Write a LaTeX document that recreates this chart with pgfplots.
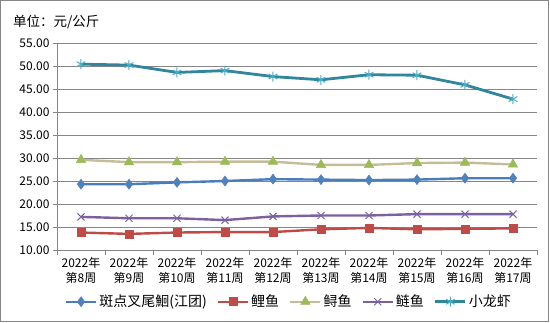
\documentclass[border=0pt]{standalone}
\usepackage{fontspec}
\setmainfont{Noto Sans CJK SC}
\usepackage{pgfplots}
\pgfplotsset{compat=1.18}
\definecolor{framegray}{RGB}{134,134,134}
\definecolor{gridgray}{RGB}{134,134,134}
\definecolor{cA}{RGB}{74,126,187}
\definecolor{cAm}{RGB}{79,129,189}
\definecolor{cB}{RGB}{190,75,72}
\definecolor{cC}{RGB}{196,189,151}
\definecolor{cCm}{RGB}{155,187,89}
\definecolor{cD}{RGB}{125,96,160}
\definecolor{cE}{RGB}{49,133,156}
\definecolor{cEm}{RGB}{75,172,198}
\begin{document}
\begin{tikzpicture}[x=1pt,y=1pt]
\useasboundingbox (0,0) rectangle (550,322);
\draw[framegray, line width=1.2pt] (0.8,0.8) rectangle (548.5,321.2);
\node[anchor=west, inner sep=0pt] at (13,300) {\fontsize{13.5}{16}\selectfont 单位：元/公斤};
\begin{axis}[
  at={(57pt,72pt)}, anchor=south west, scale only axis,
  width=480pt, height=207pt,
  xmin=-0.5, xmax=9.5, ymin=10, ymax=55,
  ytick={10,15,...,55},
  yticklabel={\pgfmathprintnumber[fixed,fixed zerofill,precision=2]{\tick}},
  /pgf/number format/assume math mode=true,
  yticklabel style={font=\fontsize{12}{14}\selectfont},
  ymajorgrids, grid style={gridgray, line width=0.8pt},
  axis lines*=left, axis line style={-, draw=gridgray, line width=0.8pt},
  tick align=outside, tick style={gridgray, line width=0.8pt},
  major tick length=4pt, minor tick length=5pt,
  xtick={0,...,9},
  major x tick style={draw=none},
  minor xtick={-0.5,0.5,...,9.5},
  xticklabels={{2022年\\第8周},{2022年\\第9周},{2022年\\第10周},{2022年\\第11周},{2022年\\第12周},{2022年\\第13周},{2022年\\第14周},{2022年\\第15周},{2022年\\第16周},{2022年\\第17周}},
  xticklabel style={align=center, font=\fontsize{12}{14.5}\selectfont},
  legend style={at={(0.483,-0.25)}, anchor=center, draw=none, fill=none,
    legend columns=5, font=\fontsize{14}{16}\selectfont,
    /tikz/every even column/.append style={column sep=8pt}},
  legend image code/.code={\draw[mark repeat=2,mark phase=2,#1] plot coordinates {(0pt,0pt) (15pt,0pt) (30pt,0pt)};},
]
\addplot[cA, line width=2.4pt, mark=diamond*, mark size=5pt, mark options={solid, fill=cAm, draw=cAm, line width=0.5pt}]
 coordinates {(0,24.3) (1,24.3) (2,24.7) (3,25.0) (4,25.4) (5,25.3) (6,25.2) (7,25.3) (8,25.6) (9,25.6)};
\addlegendentry{斑点叉尾鮰(江团)}
\addplot[cB, line width=2.4pt, mark=square*, mark size=4pt, mark options={solid, fill=cB, draw=cB, line width=0.5pt}]
 coordinates {(0,13.8) (1,13.5) (2,13.8) (3,13.9) (4,13.9) (5,14.5) (6,14.8) (7,14.5) (8,14.6) (9,14.7)};
\addlegendentry{鲤鱼}
\addplot[cC, line width=2.4pt, mark=triangle*, mark size=5.5pt, mark options={solid, fill=cCm, draw=cCm, line width=0.5pt}]
 coordinates {(0,29.6) (1,29.1) (2,29.1) (3,29.2) (4,29.2) (5,28.5) (6,28.5) (7,28.9) (8,29.0) (9,28.6)};
\addlegendentry{鲟鱼}
\addplot[cD, line width=2.4pt, mark=x, mark size=5pt, mark options={solid, draw=cD, line width=1pt}]
 coordinates {(0,17.2) (1,16.9) (2,16.9) (3,16.5) (4,17.3) (5,17.5) (6,17.5) (7,17.8) (8,17.8) (9,17.8)};
\addlegendentry{鲢鱼}
\addplot[cE, line width=2.8pt, mark=asterisk, mark size=5pt, mark options={solid, draw=cEm, line width=1pt}]
 coordinates {(0,50.4) (1,50.2) (2,48.6) (3,49.0) (4,47.7) (5,47.0) (6,48.1) (7,48.0) (8,45.9) (9,42.8)};
\addlegendentry{小龙虾}
\end{axis}
\end{tikzpicture}
\end{document}
